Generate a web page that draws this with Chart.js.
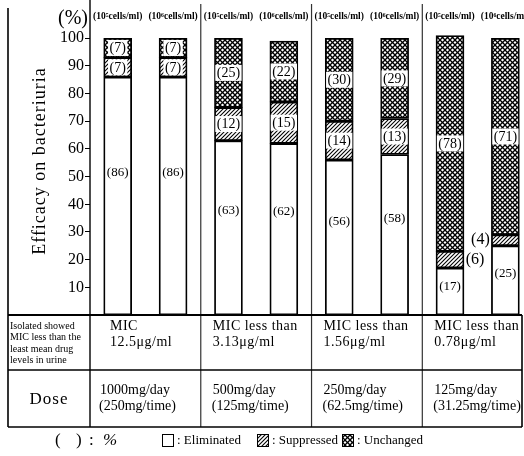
<!DOCTYPE html>
<html>
<head>
<meta charset="utf-8">
<script src="https://cdn.jsdelivr.net/npm/chart.js@4/dist/chart.umd.min.js"></script>
<style>
  html, body { margin: 0; padding: 0; background: #fff; overflow: hidden; }
  canvas { display: block; }
</style>
</head>
<body>
<canvas id="chart" width="524" height="456"></canvas>
<script>
// Inoculum size shown above each bar
const inocula = ['(10⁵cells/ml)', '(10⁶cells/ml)', '(10⁵cells/ml)', '(10⁶cells/ml)',
                 '(10⁵cells/ml)', '(10⁶cells/ml)', '(10⁵cells/ml)', '(10⁶cells/ml)'];
// Outcome percentages per bar
const eliminated = [86, 86, 63, 62, 56, 58, 17, 25];
const suppressed = [7, 7, 12, 15, 14, 13, 6, 4];
const unchanged  = [7, 7, 25, 22, 30, 29, 78, 71];
const yTicks = [10, 20, 30, 40, 50, 60, 70, 80, 90, 100];

// Table rows under the bars, one entry per dose group
const rowHeadMic = ['Isolated showed', 'MIC less than the', 'least mean drug', 'levels in urine'];
const rowHeadDose = 'Dose';
const micText = [['MIC', '12.5μg/ml'], ['MIC less than', '3.13μg/ml'],
                 ['MIC less than', '1.56μg/ml'], ['MIC less than', '0.78μg/ml']];
const doseText = [['1000mg/day', '(250mg/time)'], ['500mg/day', '(125mg/time)'],
                  ['250mg/day', '(62.5mg/time)'], ['125mg/day', '(31.25mg/time)']];
const legendNames = [': Eliminated', ': Suppressed', ': Unchanged'];

const SERIF = '"Liberation Serif", "DejaVu Serif", serif';

// Fill patterns: diagonal hatching and a cross-hatch mesh
function makeHatch() {
  const t = document.createElement('canvas');
  t.width = t.height = 4;
  const g = t.getContext('2d');
  g.fillStyle = '#fff'; g.fillRect(0, 0, 4, 4);
  g.strokeStyle = '#000'; g.lineWidth = 1.1;
  for (const k of [0, 4, 8]) {
    g.beginPath(); g.moveTo(k + 1, -1); g.lineTo(-1, k + 1); g.stroke();
  }
  return g.createPattern(t, 'repeat');
}
function makeCross() {
  const n = 5;
  const t = document.createElement('canvas');
  t.width = t.height = n;
  const g = t.getContext('2d');
  g.fillStyle = '#fff'; g.fillRect(0, 0, n, n);
  g.strokeStyle = '#000'; g.lineWidth = 1.3;
  for (const k of [0, n, 2 * n]) {
    g.beginPath(); g.moveTo(k + 2, -2); g.lineTo(-2, k + 2); g.stroke();
  }
  for (const k of [-n, 0, n]) {
    g.beginPath(); g.moveTo(k - 2, -2); g.lineTo(k + n + 2, n + 2); g.stroke();
  }
  return g.createPattern(t, 'repeat');
}
const ctx0 = document.getElementById('chart').getContext('2d');
const hatch = makeHatch();
const cross = makeCross();

const xs = eliminated.map((_, i) => i + 0.5);
const pts = arr => arr.map((v, i) => ({ x: xs[i], y: v }));

function text(ctx, s, x, y, font, align, spacing) {
  ctx.save();
  ctx.font = font;
  ctx.fillStyle = '#000';
  ctx.textAlign = align || 'left';
  ctx.textBaseline = 'middle';
  ctx.letterSpacing = spacing || '0px';
  ctx.fillText(s, x, y);
  ctx.restore();
}
function line(ctx, x1, y1, x2, y2, w, c) {
  ctx.save();
  ctx.strokeStyle = c || '#000';
  ctx.lineWidth = w || 1;
  ctx.beginPath(); ctx.moveTo(x1, y1); ctx.lineTo(x2, y2); ctx.stroke();
  ctx.restore();
}

const decorations = {
  id: 'decorations',
  beforeDraw(chart) {
    const c = chart.ctx;
    c.save(); c.fillStyle = '#fff'; c.fillRect(0, 0, chart.width, chart.height); c.restore();
  },
  afterDatasetsDraw(chart) {
    const c = chart.ctx;
    const ys = chart.scales.y;
    const mE = chart.getDatasetMeta(0);
    eliminated.forEach((e, i) => {
      const bx = mE.data[i].x, half = mE.data[i].width / 2;
      // eliminated share, written in the white part
      text(c, '(' + e + ')', bx, ys.getPixelForValue(e * 0.6), '13px ' + SERIF, 'center');
      // patterned shares with a white label box
      const segs = [[suppressed[i], e], [unchanged[i], e + suppressed[i]]];
      segs.forEach(([v, base]) => {
        const yc = ys.getPixelForValue(base + v / 2);
        const s = '(' + v + ')';
        if (v < 7) {
          // too thin to hold a label: write it in the gap beside the bar
          const side = i % 2 === 0 ? 1 : -1;
          text(c, s, bx + side * (half + 11), yc, '16px ' + SERIF, 'center');
          return;
        }
        c.save();
        c.font = '14px ' + SERIF;
        const w = c.measureText(s).width;
        c.fillStyle = '#fff';
        c.fillRect(bx - w / 2 - 1.5, yc - 8, w + 3, 16);
        c.restore();
        text(c, s, bx, yc + 0.5, '14px ' + SERIF, 'center');
      });
    });
  },
  afterDraw(chart) {
    const c = chart.ctx;
    const xsS = chart.scales.x, a = chart.chartArea;
    const left = 8, right = a.right, axisX = a.left;
    const rowTop = a.bottom, rowMid = 370, rowBot = 427;
    const seps = [2, 4, 6].map(v => xsS.getPixelForValue(v));

    // frame, axis line and group separators
    line(c, left, 8, left, rowBot, 1.6);
    line(c, axisX, 0, axisX, rowBot, 1.4);
    seps.forEach(x => line(c, x, 4, x, rowBot, 1.2, '#333'));
    line(c, right, rowTop, right, rowBot, 1.6);
    line(c, left, rowTop, right, rowTop, 1.8);
    line(c, left, rowMid, right, rowMid, 1.4);
    line(c, left, rowBot, right, rowBot, 1.6);

    // y-axis title and unit
    c.save();
    c.translate(40, 161);
    c.rotate(-Math.PI / 2);
    text(c, 'Efficacy on bacteriuria', 0, 0, '18px ' + SERIF, 'center', '1px');
    c.restore();
    text(c, '(%)', 88, 19, '20px ' + SERIF, 'right');

    // inoculum labels above the bars
    const mE = chart.getDatasetMeta(0);
    inocula.forEach((s, i) => text(c, s, mE.data[i].x, 17, 'bold 9.5px ' + SERIF, 'center'));

    // table contents
    rowHeadMic.forEach((s, k) => text(c, s, 10, 326 + k * 11.5, '10px ' + SERIF, 'left'));
    text(c, rowHeadDose, 49, 400, '17px ' + SERIF, 'center', '1px');
    const colX = [axisX].concat(seps);
    micText.forEach((pair, g) => {
      const x0 = colX[g] + (g === 0 ? 20 : 12);
      text(c, pair[0], x0, 326, '14px ' + SERIF, 'left', '0.5px');
      text(c, pair[1], x0, 342, '14px ' + SERIF, 'left', '0.5px');
    });
    doseText.forEach((pair, g) => {
      const x0 = colX[g] + (g === 0 ? 9 : 11);
      text(c, pair[0], x0 + 1, 390, '14px ' + SERIF, 'left');
      text(c, pair[1], x0, 406, '14px ' + SERIF, 'left');
    });

    // legend
    const ly = 441;
    text(c, '(', 55, ly, '17px ' + SERIF, 'left');
    text(c, ')', 76, ly, '17px ' + SERIF, 'left');
    text(c, ':', 89, ly, '17px ' + SERIF, 'left');
    text(c, '%', 103, ly, 'italic 17px ' + SERIF, 'left');
    const fills = ['#fff', hatch, cross];
    const boxX = [162, 257, 342];
    fills.forEach((f, k) => {
      c.save();
      c.fillStyle = f;
      c.fillRect(boxX[k], ly - 7, 12, 13);
      c.strokeStyle = '#000'; c.lineWidth = 1;
      c.strokeRect(boxX[k] + 0.5, ly - 6.5, 11, 12);
      c.restore();
      text(c, legendNames[k], boxX[k] + 15, ly, '13px ' + SERIF, 'left');
    });
  }
};

new Chart(ctx0, {
  type: 'bar',
  data: {
    datasets: [
      { label: 'Eliminated', data: pts(eliminated), backgroundColor: '#fff' },
      { label: 'Suppressed', data: pts(suppressed), backgroundColor: hatch },
      { label: 'Unchanged', data: pts(unchanged), backgroundColor: cross }
    ].map(d => Object.assign(d, {
      borderColor: '#000', borderWidth: 1.8, borderSkipped: false, barThickness: 28
    }))
  },
  options: {
    responsive: false,
    animation: false,
    devicePixelRatio: 1,
    layout: { padding: { left: 0, right: 2, top: 4, bottom: 141 } },
    plugins: { legend: { display: false }, tooltip: { enabled: false } },
    scales: {
      x: { type: 'linear', min: 0, max: 7.8, offset: false, stacked: true, display: false },
      y: {
        min: 0, max: 110, stacked: true,
        afterFit(s) { s.width = 90; },
        afterBuildTicks(s) { s.ticks = yTicks.map(v => ({ value: v })); },
        ticks: { font: { family: SERIF, size: 16 }, color: '#000', padding: 1 },
        grid: { drawOnChartArea: false, tickLength: 5, color: '#000', lineWidth: 1 },
        border: { display: false }
      }
    }
  },
  plugins: [decorations]
});
</script>
</body>
</html>
